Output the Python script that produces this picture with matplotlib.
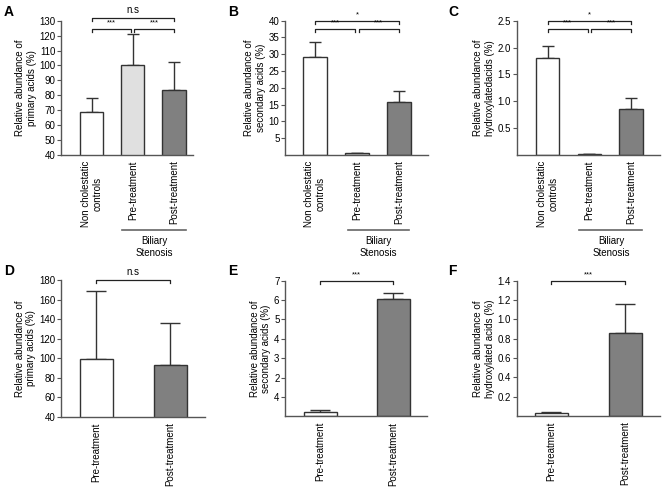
import matplotlib
matplotlib.use("Agg")
import matplotlib.pyplot as plt
import matplotlib.transforms as mtransforms
import numpy as np

plt.rcParams['font.family'] = ['Liberation Sans', 'DejaVu Sans']
plt.rcParams['font.size'] = 7

# data
groups3 = ["Non cholestatic\ncontrols", "Pre-treatment", "Post-treatment"]
groups2 = ["Pre-treatment", "Post-treatment"]

primary_3 = [69, 100, 83.5]
primary_3_err = [9, 21, 18.5]
secondary_3 = [29.2, 0.5, 15.7]
secondary_3_err = [4.4, 0.2, 3.4]
hydroxy_3 = [1.81, 0.02, 0.85]
hydroxy_3_err = [0.22, 0.0, 0.21]

primary_2 = [99, 93]
primary_2_err = [70, 43]
secondary_2 = [0.2, 6.05]
secondary_2_err = [0.12, 0.3]
hydroxy_2 = [0.028, 0.86]
hydroxy_2_err = [0.018, 0.295]

col3 = ["white", "#e0e0e0", "#808080"]
col2 = ["white", "#808080"]

W, H = 662, 488
fig = plt.figure(figsize=(W / 100, H / 100), dpi=100)


def add_ax(left, right, top, bottom):
    return fig.add_axes([left / W, 1 - bottom / H, (right - left) / W, (bottom - top) / H])


def style(ax):
    for s in ["top", "right"]:
        ax.spines[s].set_visible(False)
    for s in ["left", "bottom"]:
        ax.spines[s].set_color("#555555")
        ax.spines[s].set_linewidth(1.0)
    ax.tick_params(axis="y", length=3, width=0.8, color="#555555", pad=1)
    ax.tick_params(axis="x", length=0, pad=4)


def bars(ax, vals, errs, cols, width, capsize):
    x = np.arange(len(vals))
    ax.errorbar(x, vals, yerr=[np.zeros(len(errs)), errs], fmt="none",
                ecolor="#333333", elinewidth=1.0, capsize=capsize, capthick=1.0, zorder=1)
    ax.bar(x, vals, width=width, color=cols, edgecolor="#333333", linewidth=1.0, zorder=2)
    return x


def bracket(ax, x0, x1, y, label, dy=0.025, ty=0.02):
    tr = mtransforms.blended_transform_factory(ax.transData, ax.transAxes)
    ax.plot([x0, x0, x1, x1], [y - dy, y, y, y - dy], color="#222222", lw=0.9,
            transform=tr, clip_on=False)
    ax.text((x0 + x1) / 2, y + ty, label, ha="center", va="bottom",
            fontsize=7 if label == "n.s" else 5.5, transform=tr, clip_on=False)


def biliary(ax, x0, x1):
    tr = mtransforms.blended_transform_factory(ax.transData, fig.transFigure)
    yl = 1 - 230 / H
    ax.plot([x0, x1], [yl, yl], color="#666666", lw=1.2, transform=tr, clip_on=False)
    ax.text((x0 + x1) / 2, 1 - 236 / H, "Biliary\nStenosis", ha="center", va="top",
            fontsize=7, transform=tr, linespacing=1.3)


# ---- A
axA = add_ax(61, 193, 20.7, 155)
style(axA)
x = bars(axA, primary_3, primary_3_err, col3, 0.56, 4.5)
axA.set_xlim(-0.74, 2.46)
axA.set_ylim(40, 130)
axA.set_yticks(np.arange(40, 131, 10))
axA.set_xticks(x)
axA.set_xticklabels(groups3, rotation=90, ha="center", va="top")
axA.set_ylabel("Relative abundance of\nprimary acids (%)", labelpad=2)
bracket(axA, 0, 0.96, 0.94, "***")
bracket(axA, 1.04, 2, 0.94, "***")
bracket(axA, 0, 2, 1.02, "n.s")
biliary(axA, 0.75, 2.3)

# ---- B
axB = add_ax(285, 428, 20.7, 155)
style(axB)
x = bars(axB, secondary_3, secondary_3_err, col3, 0.57, 4.5)
axB.set_xlim(-0.71, 2.69)
axB.set_ylim(0, 40)
axB.set_yticks(np.arange(5, 41, 5))
axB.set_xticks(x)
axB.set_xticklabels(groups3, rotation=90, ha="center", va="top")
axB.set_ylabel("Relative abundance of\nsecondary acids (%)", labelpad=2)
bracket(axB, 0, 0.96, 0.94, "***")
bracket(axB, 1.04, 2, 0.94, "***")
bracket(axB, 0, 2, 1.0, "*")
biliary(axB, 0.78, 2.25)

# ---- C
axC = add_ax(516.7, 660, 20.7, 155)
style(axC)
x = bars(axC, hydroxy_3, hydroxy_3_err, col3, 0.56, 4.5)
axC.set_xlim(-0.74, 2.69)
axC.set_ylim(0, 2.5)
axC.set_yticks([0.5, 1.0, 1.5, 2.0, 2.5])
axC.set_yticklabels(["0.5", "1.0", "1.5", "2.0", "2.5"])
axC.set_xticks(x)
axC.set_xticklabels(groups3, rotation=90, ha="center", va="top")
axC.set_ylabel("Relative abundance of\nhydroxylatedacids (%)", labelpad=2)
bracket(axC, 0, 0.96, 0.94, "***")
bracket(axC, 1.04, 2, 0.94, "***")
bracket(axC, 0, 2, 1.0, "*")
biliary(axC, 0.76, 2.27)

# ---- D
axD = add_ax(61, 205, 280, 416.7)
style(axD)
x = bars(axD, primary_2, primary_2_err, col2, 0.45, 7)
axD.set_xlim(-0.48, 1.47)
axD.set_ylim(40, 180)
axD.set_yticks(np.arange(40, 181, 20))
axD.set_xticks(x)
axD.set_xticklabels(groups2, rotation=90, ha="center", va="top")
axD.set_ylabel("Relative abundance of\nprimary acids (%)", labelpad=2)
bracket(axD, 0, 1, 1.0, "n.s")

# ---- E
axE = add_ax(285, 427, 280.7, 416.3)
style(axE)
x = bars(axE, secondary_2, secondary_2_err, col2, 0.45, 7)
axE.set_xlim(-0.48, 1.46)
axE.set_ylim(0, 7)
axE.set_yticks(np.arange(1, 8))
axE.set_yticklabels(["4", "2", "3", "4", "5", "6", "7"])
axE.set_xticks(x)
axE.set_xticklabels(groups2, rotation=90, ha="center", va="top")
axE.set_ylabel("Relative abundance of\nsecondary acids (%)", labelpad=2)
bracket(axE, 0, 1, 1.0, "***")

# ---- F
axF = add_ax(516.7, 660, 280.7, 416)
style(axF)
x = bars(axF, hydroxy_2, hydroxy_2_err, col2, 0.45, 7)
axF.set_xlim(-0.47, 1.47)
axF.set_ylim(0, 1.4)
axF.set_yticks([0.2, 0.4, 0.6, 0.8, 1.0, 1.2, 1.4])
axF.set_yticklabels(["0.2", "0.4", "0.6", "0.8", "1.0", "1.2", "1.4"])
axF.set_xticks(x)
axF.set_xticklabels(groups2, rotation=90, ha="center", va="top")
axF.set_ylabel("Relative abundance of\nhydroxylated acids (%)", labelpad=2)
bracket(axF, 0, 1, 1.0, "***")

# panel letters
for lab, px, py in [("A", 4, 12), ("B", 228, 12), ("C", 448, 12),
                    ("D", 4, 271), ("E", 228, 271), ("F", 448, 271)]:
    fig.text(px / W, 1 - py / H, lab, fontsize=10, fontweight="bold", va="center", ha="left")

fig.savefig("out.png", dpi=100)
